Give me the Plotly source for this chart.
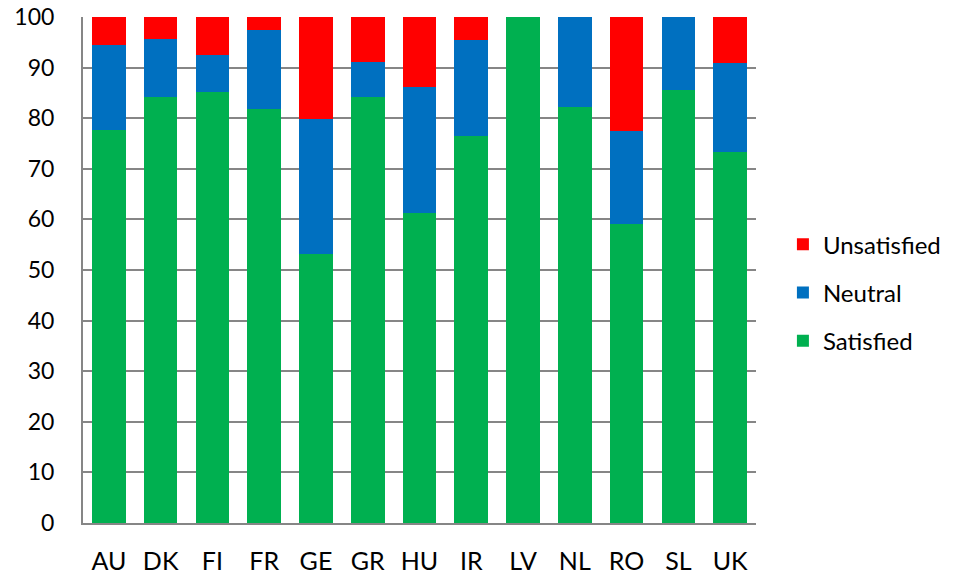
import plotly.graph_objects as go

countries = ["AU", "DK", "FI", "FR", "GE", "GR", "HU", "IR", "LV", "NL", "RO", "SL", "UK"]
satisfied = [77.6, 84.1, 85.1, 81.9, 53.2, 84.1, 61.3, 76.5, 100.0, 82.2, 59.1, 85.5, 73.4]
neutral = [16.8, 11.5, 7.3, 15.6, 26.7, 7.0, 24.9, 19.0, 0.0, 17.8, 18.4, 14.5, 17.6]
unsatisfied = [5.6, 4.4, 7.6, 2.5, 20.1, 8.9, 13.8, 4.5, 0.0, 0.0, 22.5, 0.0, 9.0]

# stacked bottom-to-top; legend lists them top-to-bottom
series = [
    ("Satisfied", satisfied, "#00B050", 3),
    ("Neutral", neutral, "#0070C0", 2),
    ("Unsatisfied", unsatisfied, "#FF0000", 1),
]

font_family = "Lato, 'Open Sans', sans-serif"

fig = go.Figure()
for name, vals, color, rank in series:
    fig.add_trace(go.Bar(
        x=countries, y=vals, name=name, legendgroup=name, legendrank=rank,
        marker=dict(color=color, line=dict(width=0)),
    ))

fig.update_layout(
    barmode="stack",
    bargap=0.35,
    width=957, height=576,
    margin=dict(l=83, r=201, t=17, b=53, autoexpand=False),
    paper_bgcolor="white", plot_bgcolor="white",
    font=dict(family=font_family, size=23, color="#000000"),
    legend=dict(
        traceorder="grouped", tracegroupgap=14,
        x=1.04, xanchor="left", y=0.455, yanchor="middle",
        font=dict(size=24), itemwidth=30,
    ),
    xaxis=dict(
        showgrid=False, showline=True, linecolor="#868686", linewidth=2,
        ticks="", tickfont=dict(size=25), ticklabelstandoff=15,
        automargin=False,
    ),
    yaxis=dict(
        range=[0, 100], dtick=10, showgrid=True, gridcolor="#868686", gridwidth=2,
        showline=True, linecolor="#868686", linewidth=2, zeroline=False,
        ticks="", tickfont=dict(size=23), ticklabelstandoff=22,
        automargin=False,
    ),
)

fig.write_html("out.html")
